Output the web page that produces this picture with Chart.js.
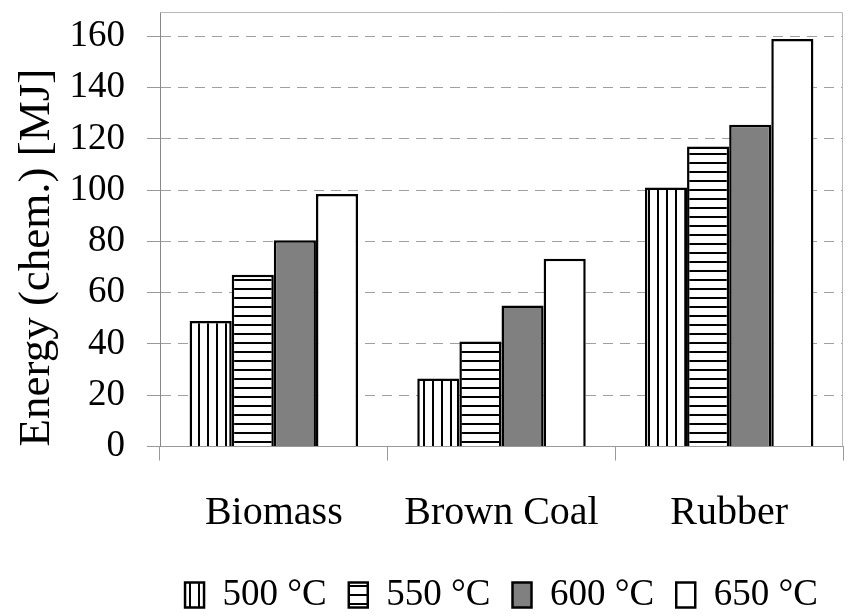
<!DOCTYPE html>
<html>
<head>
<meta charset="utf-8">
<script src="https://cdn.jsdelivr.net/npm/chart.js@4.4.1/dist/chart.umd.min.js"></script>
<style>
  body { margin: 0; background: #fff; }
  #box { width: 850px; height: 616px; }
</style>
</head>
<body>
<div id="box"><canvas id="energy"></canvas></div>
<script>
// values
var categories = ['Biomass', 'Brown Coal', 'Rubber'];
var seriesNames = ['500 °C', '550 °C', '600 °C', '650 °C'];
var t500 = [49, 26.5, 101];
var t550 = [67, 41, 117];
var t600 = [80.5, 55, 125.5];
var t650 = [98.5, 73.2, 159];
var yTicks = [0, 20, 40, 60, 80, 100, 120, 140, 160];

function stripes(vertical) {
    var c = document.createElement('canvas');
    c.width = 9;
    c.height = 9;
    var g = c.getContext('2d');
    g.fillStyle = '#fff';
    g.fillRect(0, 0, 9, 9);
    g.fillStyle = '#000';
    if (vertical) g.fillRect(0, 0, 2, 9);
    else g.fillRect(0, 0, 9, 2);
    return g.createPattern(c, 'repeat');
}

var fills = [stripes(true), stripes(false), '#808080', '#ffffff'];
var values = [t500, t550, t600, t650];

var datasets = seriesNames.map(function (name, i) {
    return {
        label: name,
        data: values[i],
        backgroundColor: fills[i],
        borderColor: '#000',
        borderWidth: 2.5,
        barPercentage: 1,
        categoryPercentage: 0.74
    };
});

// light frame on top and right of plot
var frame = {
    id: 'frame',
    afterDraw: function (chart) {
        var a = chart.chartArea;
        var ctx = chart.ctx;
        ctx.save();
        ctx.strokeStyle = '#b8b8b8';
        ctx.lineWidth = 1;
        ctx.beginPath();
        ctx.moveTo(a.left, a.top + 0.5);
        ctx.lineTo(a.right - 0.5, a.top + 0.5);
        ctx.lineTo(a.right - 0.5, a.bottom);
        ctx.stroke();
        ctx.restore();
    }
};

var serif = 'Liberation Serif';

new Chart(document.getElementById('energy').getContext('2d'), {
    type: 'bar',
    data: { labels: categories, datasets: datasets },
    plugins: [frame],
    options: {
        responsive: true,
        maintainAspectRatio: false,
        animation: false,
        devicePixelRatio: 1,
        layout: { padding: { top: 12, right: 7, left: 0, bottom: -7.5 } },
        plugins: {
            legend: {
                position: 'bottom',
                fullSize: false,
                labels: {
                    color: '#000',
                    font: { family: serif, size: 37 },
                    boxWidth: 19,
                    boxHeight: 25,
                    padding: 22
                }
            },
            tooltip: { enabled: false }
        },
        scales: {
            x: {
                grid: {
                    drawOnChartArea: false,
                    color: '#999',
                    tickLength: 14
                },
                border: { color: '#999', width: 1 },
                ticks: {
                    color: '#000',
                    font: { family: serif, size: 40 },
                    padding: 29,
                    maxRotation: 0
                },
                afterFit: function (s) {
                    s.height = 108;
                    s.paddingLeft = 0;
                    s.paddingRight = 0;
                }
            },
            y: {
                min: 0,
                max: 169.5,
                afterBuildTicks: function (s) {
                    s.ticks = yTicks.map(function (v) { return { value: v }; });
                },
                grid: {
                    color: '#a0a0a0',
                    tickBorderDash: [],
                    tickColor: '#999',
                    tickLength: 13
                },
                border: { color: '#888', width: 1, dash: [10, 7] },
                ticks: {
                    color: '#000',
                    font: { family: serif, size: 37 },
                    padding: 22,
                    autoSkip: false
                },
                title: {
                    display: true,
                    text: 'Energy (chem.) [MJ]',
                    color: '#000',
                    align: 'start',
                    font: { family: serif, size: 45, weight: 'normal' },
                    padding: { top: 10, bottom: 0 }
                },
                afterFit: function (s) {
                    s.width = 160;
                    s.paddingTop = 0;
                    s.paddingBottom = 0;
                }
            }
        }
    }
});
</script>
</body>
</html>
